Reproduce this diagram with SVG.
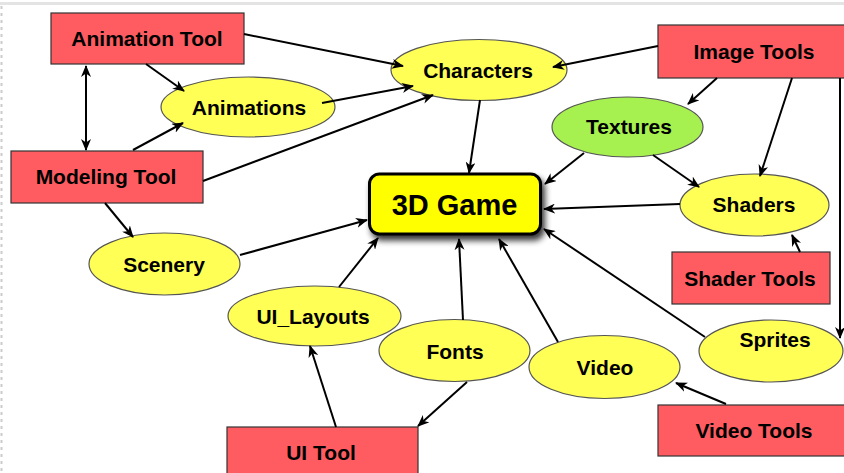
<svg xmlns="http://www.w3.org/2000/svg" width="844" height="473" viewBox="0 0 844 473">
<defs>
<style>
.tool{fill:#FE5C60;stroke:#333;stroke-width:1.2}
.ell{fill:#FFFF55;stroke:#555;stroke-width:1.2}
.green{fill:#A6F050;stroke:#555;stroke-width:1.2}
.lbl{font-family:"Liberation Sans",Arial,sans-serif;font-weight:bold;font-size:21px;fill:#000;text-anchor:middle}
.big{font-family:"Liberation Sans",Arial,sans-serif;font-weight:bold;font-size:29px;fill:#000;text-anchor:middle}
.edge{stroke:#000;stroke-width:2;fill:none;marker-end:url(#arr)}
</style>
<marker id="arr" markerUnits="userSpaceOnUse" markerWidth="12" markerHeight="10" refX="11" refY="5" orient="auto-start-reverse" viewBox="0 0 12 10">
<path d="M0,0 L12,5 L0,10 L3.5,5 Z" fill="#000"/>
</marker>
<filter id="shadow" x="-20%" y="-30%" width="150%" height="170%">
<feGaussianBlur in="SourceAlpha" stdDeviation="3"/>
<feOffset dx="3" dy="5" result="b"/>
<feComponentTransfer><feFuncA type="linear" slope="0.8"/></feComponentTransfer>
<feMerge><feMergeNode/><feMergeNode in="SourceGraphic"/></feMerge>
</filter>
</defs>
<rect x="0" y="0" width="844" height="473" fill="#fff"/>
<rect x="0" y="2" width="844" height="3" fill="#e4e4e4"/>
<line x1="1.5" y1="6" x2="1.5" y2="473" stroke="#ccc" stroke-width="2" stroke-dasharray="3,4"/>

<g id="animation-tool"><rect class="tool" x="51" y="13" width="193" height="51"/><text class="lbl" x="147" y="46">Animation Tool</text></g>
<g id="modeling-tool"><rect class="tool" x="11" y="151" width="192" height="52"/><text class="lbl" x="106" y="184">Modeling Tool</text></g>
<g id="animations"><ellipse class="ell" cx="248" cy="107" rx="87" ry="30"/><text class="lbl" x="249" y="115">Animations</text></g>
<g id="characters"><ellipse class="ell" cx="479" cy="70" rx="88" ry="30.5"/><text class="lbl" x="478" y="78">Characters</text></g>
<g id="image-tools"><rect class="tool" x="658" y="25" width="190" height="53"/><text class="lbl" x="754" y="59">Image Tools</text></g>
<g id="textures"><ellipse class="green" cx="627.5" cy="127" rx="75.5" ry="30"/><text class="lbl" x="629" y="134">Textures</text></g>
<g id="shaders"><ellipse class="ell" cx="754.5" cy="205" rx="74.5" ry="31"/><text class="lbl" x="754" y="212">Shaders</text></g>
<g id="shader-tools"><rect class="tool" x="672" y="252" width="158" height="52"/><text class="lbl" x="750" y="286">Shader Tools</text></g>
<g id="sprites"><ellipse class="ell" cx="771" cy="351" rx="72" ry="31"/><text class="lbl" x="775" y="347">Sprites</text></g>
<g id="video-tools"><rect class="tool" x="658" y="405" width="190" height="51"/><text class="lbl" x="754" y="438">Video Tools</text></g>
<g id="video"><ellipse class="ell" cx="604.5" cy="367" rx="75.5" ry="31.5"/><text class="lbl" x="605" y="375">Video</text></g>
<g id="fonts"><ellipse class="ell" cx="454.5" cy="350.5" rx="75.5" ry="31"/><text class="lbl" x="455" y="359">Fonts</text></g>
<g id="ui-layouts"><ellipse class="ell" cx="314.5" cy="316" rx="86.5" ry="30"/><text class="lbl" x="313" y="324">UI_Layouts</text></g>
<g id="scenery"><ellipse class="ell" cx="164.5" cy="264" rx="75.5" ry="31"/><text class="lbl" x="164" y="272">Scenery</text></g>
<g id="ui-tool"><rect class="tool" x="227" y="427" width="191" height="52"/><text class="lbl" x="321" y="460">UI Tool</text></g>
<g id="game"><rect x="369.5" y="174" width="171" height="60" rx="10" ry="10" fill="#FFFF00" stroke="#000" stroke-width="3" filter="url(#shadow)"/><text class="big" x="454.5" y="215">3D Game</text></g>

<g id="connectors">
<line class="edge" x1="86" y1="66" x2="86" y2="150" style="marker-start:url(#arr)"/>
<line class="edge" x1="146" y1="64" x2="184" y2="91"/>
<line class="edge" x1="133" y1="150" x2="183" y2="123"/>
<line class="edge" x1="244" y1="34" x2="403" y2="66"/>
<line class="edge" x1="322" y1="103" x2="413" y2="86"/>
<line class="edge" x1="203" y1="181" x2="433" y2="95"/>
<line class="edge" x1="658" y1="46" x2="553" y2="67"/>
<line class="edge" x1="480" y1="100" x2="469" y2="173"/>
<line class="edge" x1="584" y1="153" x2="545" y2="184"/>
<line class="edge" x1="717" y1="78" x2="688" y2="104"/>
<line class="edge" x1="792" y1="78" x2="760" y2="176"/>
<line class="edge" x1="653" y1="155" x2="699" y2="187"/>
<line class="edge" x1="680" y1="204" x2="544" y2="209"/>
<line class="edge" x1="840" y1="78" x2="840" y2="338"/>
<line class="edge" x1="800" y1="252" x2="792" y2="235"/>
<line class="edge" x1="705" y1="337" x2="544" y2="229"/>
<line class="edge" x1="558" y1="342" x2="499" y2="239"/>
<line class="edge" x1="463" y1="320" x2="459" y2="239"/>
<line class="edge" x1="339" y1="287" x2="378" y2="238"/>
<line class="edge" x1="240" y1="255" x2="367" y2="220"/>
<line class="edge" x1="105" y1="203" x2="133" y2="237"/>
<line class="edge" x1="336" y1="427" x2="310" y2="346"/>
<line class="edge" x1="467" y1="382" x2="418" y2="426"/>
<line class="edge" x1="726" y1="404" x2="676" y2="383"/>
</g>
</svg>
